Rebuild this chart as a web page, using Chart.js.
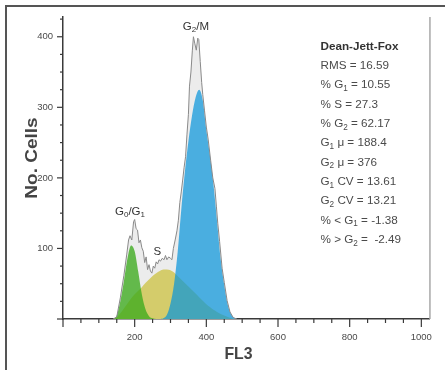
<!DOCTYPE html>
<html><head><meta charset="utf-8">
<script src="https://cdn.jsdelivr.net/npm/chart.js@4.4.1/dist/chart.umd.min.js"></script>
<style>html,body{margin:0;padding:0;background:#fff;}#wrap{width:445px;height:370px;}</style>
</head><body><div id="wrap"><canvas id="c" width="445" height="370"></canvas></div>
<script>
// ---- data ----
const histFL3 = [140,150,160,170,178,183,187,192,197,200,204,208,212,216,220,224,228,232,236,240,244,248,252,256,260,264,268,272,277,282,286,290,295,300,304,308,313,318,322,326,330,334,338,342,346,350,353,357,361,364,368,372,376,379,383,387,390,395,400,405,412,418,424,428,432,437,444,450,458,466,475,485];
const histCounts = [0,3,30,62,92,112,118,112,138,141,128,126,108,112,101,96,80,88,70,77,68,65,75,72,81,78,84,82,86,84,90,84,88,86,84,100,112,125,140,165,180,197,215,230,262,290,330,350,381,400,390,381,398,396,365,335,318,295,272,255,225,200,185,160,135,110,72,52,26,10,2,0];
const compFL3 = [140,150,160,170,180,190,200,210,220,230,240,250,260,270,280,290,300,310,320,330,340,350,360,370,380,390,400,410,420,430,440,450,460,470,480,490,500];
const g1Fit = [0,5,25,54,86,104,96,67,35,14,4,1,0,0,0,0,0,0,0,0,0,0,0,0,0,0,0,0,0,0,0,0,0,0,0,0,0];
const sFit  = [0,2,8,15,22,29,35,40,45,51,56,61,65,68,70,70,69,66,61,56,51,46,41,36,31,26,21,17,13,10,7,5,3,1,0,0,0];
const g2Fit = [0,0,0,0,0,0,0,0,0,0,0,0,0,0,1,6,22,50,95,155,208,252,288,314,325,310,268,232,190,138,85,48,20,6,1,0,0];
const xMajorTicks = [0,200,400,600,800,1000];
const xMinorTicks = [50,100,150,250,300,350,450,500,550,650,700,750,850,900,950];
const yMajorTicks = [0,100,200,300,400];
const yMinorTicks = [25,50,75,125,150,175,225,250,275,325,350,375,425];
const peakLabels = ['G_0/G_1','S','G_2/M'];
const statsTitle = 'Dean-Jett-Fox';
const statsLines = ['RMS = 16.59','% G_1 = 10.55','% S = 27.3','% G_2 = 62.17','G_1 \u03bc = 188.4','G_2 \u03bc = 376','G_1 CV = 13.61','G_2 CV = 13.21','% < G_1 = -1.38','% > G_2 =  -2.49'];
const xTitle = 'FL3';
const yTitle = 'No. Cells';

const FAM = "'Liberation Sans', Arial, Helvetica, sans-serif";

function drawRich(ctx, str, x, y, size, weight, color, align){
  const parts=[]; let buf=''; let i=0;
  while(i<str.length){
    if(str[i]==='_'){ if(buf){parts.push({t:buf,sub:false});buf='';} parts.push({t:str[i+1],sub:true}); i+=2; }
    else { buf+=str[i]; i++; }
  }
  if(buf) parts.push({t:buf,sub:false});
  const fN = weight+' '+size+'px '+FAM, fS = weight+' '+(size*0.7).toFixed(1)+'px '+FAM;
  let total=0;
  parts.forEach(p=>{ctx.font=p.sub?fS:fN; p.w=ctx.measureText(p.t).width; total+=p.w;});
  let cx = align==='center' ? x-total/2 : x;
  ctx.fillStyle=color; ctx.textAlign='left'; ctx.textBaseline='alphabetic';
  parts.forEach(p=>{ctx.font=p.sub?fS:fN; ctx.fillText(p.t,cx,p.sub?y+size*0.22:y); cx+=p.w;});
}
function seg(ctx,x1,y1,x2,y2){ctx.beginPath();ctx.moveTo(x1,y1);ctx.lineTo(x2,y2);ctx.stroke();}

const decor = {
  id:'decor',
  beforeDraw(chart){const c=chart.ctx;c.save();c.fillStyle='#fff';c.fillRect(0,0,chart.width,chart.height);c.restore();},
  afterDraw(chart){
    const ctx=chart.ctx, xs=chart.scales.x, ys=chart.scales.y, a=chart.chartArea;
    ctx.save();
    ctx.strokeStyle='#a8a8a8'; ctx.lineWidth=1.5;
    seg(ctx,a.right,a.top,a.right,a.bottom);
    ctx.strokeStyle='#3a3a3a'; ctx.lineWidth=1.2;
    xMajorTicks.forEach(v=>{const p=xs.getPixelForValue(v); seg(ctx,p,a.bottom,p,a.bottom+8);});
    xMinorTicks.forEach(v=>{const p=xs.getPixelForValue(v); seg(ctx,p,a.bottom,p,a.bottom+4);});
    yMajorTicks.forEach(v=>{const p=ys.getPixelForValue(v); seg(ctx,a.left-6,p,a.left,p);});
    yMinorTicks.forEach(v=>{const p=ys.getPixelForValue(v); seg(ctx,a.left-3,p,a.left,p);});
    // outer frame
    ctx.strokeStyle='#555'; ctx.lineWidth=2;
    seg(ctx,5,6,445,6); seg(ctx,6,5,6,370);
    // axis titles
    ctx.fillStyle='#444'; ctx.textAlign='center'; ctx.textBaseline='alphabetic';
    ctx.save(); ctx.translate(238.5,359); ctx.scale(0.93,1); ctx.font='bold 17px '+FAM; ctx.fillText(xTitle,0,0); ctx.restore();
    ctx.save(); ctx.translate(37,158); ctx.rotate(-Math.PI/2); ctx.scale(1,0.82); ctx.font='bold 19px '+FAM; ctx.fillText(yTitle,0,0); ctx.restore();
    // peak labels positioned in data space
    const lp=[[187,148],[263,90.7],[371,410]];
    peakLabels.forEach((t,i)=>drawRich(ctx,t,xs.getPixelForValue(lp[i][0]),ys.getPixelForValue(lp[i][1]),11.5,'normal','#333','center'));
    // stats panel
    drawRich(ctx,statsTitle,320.5,49.5,11.7,'bold','#333','left');
    statsLines.forEach((t,i)=>drawRich(ctx,t,320.5,69+19.35*i,11.7,'normal','#4a4a4a','left'));
    ctx.restore();
  }
};

const pts=(xsArr,ysArr)=>xsArr.map((x,i)=>({x:x,y:ysArr[i]}));
new Chart(document.getElementById('c'),{
  type:'line',
  data:{datasets:[
    {label:'G2 fit',data:pts(compFL3,g2Fit),backgroundColor:'rgba(5,148,219,0.7)',borderColor:'rgba(0,0,0,0)',borderWidth:0,fill:'origin',pointRadius:0,cubicInterpolationMode:'monotone'},
    {label:'G1 fit',data:pts(compFL3,g1Fit),backgroundColor:'rgba(60,170,30,0.78)',borderColor:'rgba(0,0,0,0)',borderWidth:0,fill:'origin',pointRadius:0,cubicInterpolationMode:'monotone'},
    {label:'S fit',data:pts(compFL3,sFit),backgroundColor:'rgba(205,195,70,0.78)',borderColor:'rgba(0,0,0,0)',borderWidth:0,fill:'origin',pointRadius:0,cubicInterpolationMode:'monotone'},
    {label:'Histogram',data:pts(histFL3,histCounts),backgroundColor:'#ececec',borderColor:'#8a8a8a',borderWidth:1,fill:'origin',pointRadius:0,tension:0}
  ]},
  options:{
    responsive:false, animation:false, devicePixelRatio:1,
    layout:{padding:{left:0,top:17,right:4,bottom:0}},
    plugins:{legend:{display:false},tooltip:{enabled:false},filler:{drawTime:'beforeDatasetsDraw'}},
    scales:{
      x:{type:'linear',min:0,max:1024,afterFit:s=>{s.height=51;},
         afterBuildTicks:s=>{s.ticks=xMajorTicks.map(v=>({value:v}));},
         grid:{display:false,drawTicks:false},border:{display:true,color:'#3a3a3a',width:1.5},
         ticks:{autoSkip:false,maxRotation:0,padding:13,color:'#4a4a4a',font:{family:FAM,size:9.5},
                callback:v=>v>0?String(v):''}},
      y:{type:'linear',min:0,max:428,afterFit:s=>{s.width=63;},
         afterBuildTicks:s=>{s.ticks=yMajorTicks.map(v=>({value:v}));},
         grid:{display:false,drawTicks:false},border:{display:true,color:'#3a3a3a',width:1.5},
         ticks:{autoSkip:false,padding:10,color:'#4a4a4a',font:{family:FAM,size:9.5},
                callback:v=>v>0?String(v):''}}
    }
  },
  plugins:[decor]
});
</script></body></html>
